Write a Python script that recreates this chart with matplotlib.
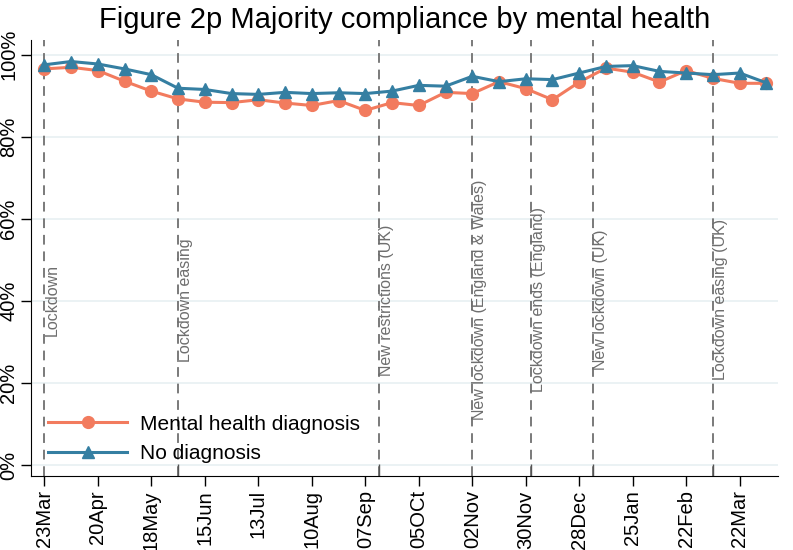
import matplotlib
matplotlib.use("Agg")
import matplotlib.pyplot as plt
import pandas as pd

plt.rcParams['font.family'] = ['Liberation Sans', 'DejaVu Sans']

# survey waves (fortnightly)
wave_dates = ["2020-03-23", "2020-04-06", "2020-04-20", "2020-05-04", "2020-05-18",
              "2020-06-01", "2020-06-15", "2020-06-29", "2020-07-13", "2020-07-27",
              "2020-08-10", "2020-08-24", "2020-09-07", "2020-09-21", "2020-10-05",
              "2020-10-19", "2020-11-02", "2020-11-16", "2020-11-30", "2020-12-14",
              "2020-12-28", "2021-01-11", "2021-01-25", "2021-02-08", "2021-02-22",
              "2021-03-08", "2021-03-22", "2021-04-05"]

mental_health = [96.5, 96.9, 96.1, 93.5, 91.1, 89.2, 88.4, 88.3, 89.0, 88.2,
                 87.6, 88.8, 86.4, 88.3, 87.6, 90.8, 90.5, 93.4, 91.7, 89.0,
                 93.3, 96.7, 95.7, 93.3, 96.1, 94.2, 93.0, 93.0]
no_diagnosis = [97.5, 98.3, 97.7, 96.5, 95.1, 91.8, 91.5, 90.5, 90.3, 90.8,
                90.5, 90.7, 90.5, 91.1, 92.5, 92.3, 94.7, 93.4, 94.1, 93.9,
                95.5, 97.1, 97.3, 95.9, 95.5, 95.1, 95.5, 93.1]

tick_dates = ["2020-03-23", "2020-04-20", "2020-05-18", "2020-06-15", "2020-07-13",
              "2020-08-10", "2020-09-07", "2020-10-05", "2020-11-02", "2020-11-30",
              "2020-12-28", "2021-01-25", "2021-02-22", "2021-03-22"]
tick_labels = ["23Mar", "20Apr", "18May", "15Jun", "13Jul", "10Aug", "07Sep",
               "05OCt", "02Nov", "30Nov", "28Dec", "25Jan", "22Feb", "22Mar"]

event_dates = ["2020-03-23", "2020-06-01", "2020-09-14", "2020-11-02",
               "2020-12-03", "2021-01-04", "2021-03-08"]
event_labels = ["Lockdown", "Lockdown easing", "New restrictions (UK)",
                "New lockdown (England & Wales)", "Lockdown ends (England)",
                "New lockdown (UK)", "Lockdown easing (UK)"]

x = pd.to_datetime(wave_dates)
ticks = pd.to_datetime(tick_dates)
events = pd.to_datetime(event_dates)

red = "#F27B5E"
blue = "#357FA2"

fig = plt.figure(figsize=(7.93, 5.5), dpi=100)
ax = fig.add_axes([0.039, 0.135, 0.942, 0.792])

for yv in range(0, 101, 20):
    ax.axhline(yv, color="#E8F0F2", lw=1.2, zorder=0)

for d, lab in zip(events, event_labels):
    ax.axvline(d, color="#7a7a7a", lw=1.4, ls=(0, (5, 3.5)), zorder=1)
    ax.text(d, 40.3, lab, rotation=90, ha="left", va="center",
            fontsize=11.5, color="#6e6e6e", zorder=2)

ax.plot(x, mental_health, color=red, lw=2.2, marker="o", ms=8.5,
        label="Mental health diagnosis", zorder=3)
ax.plot(x, no_diagnosis, color=blue, lw=2.2, marker="^", ms=8.5,
        label="No diagnosis", zorder=4)

ax.set_xlim(pd.Timestamp("2020-03-16"), pd.Timestamp("2021-04-11"))
ax.set_ylim(-2.5, 103.5)

ax.set_xticks(ticks)
ax.set_xticklabels(tick_labels, rotation=90, fontsize=14.5)
ax.set_xticks(events, minor=True)
ax.tick_params(axis="x", which="major", direction="out", length=7, width=1)
ax.tick_params(axis="x", which="minor", direction="in", length=9, width=1,
               color="#555555")

ax.set_yticks(range(0, 101, 20))
ax.set_yticklabels([f"{v}%" for v in range(0, 101, 20)], rotation=90,
                   va="center", fontsize=14.5)
ax.tick_params(axis="y", direction="out", length=7, width=1, pad=2)

for s in ["top", "right"]:
    ax.spines[s].set_visible(False)

ax.set_title("Figure 2p Majority compliance by mental health", fontsize=21, pad=9)

ax.legend(loc="lower left", frameon=False, fontsize=15, handlelength=3.8,
          handletextpad=0.6, borderaxespad=0.0, labelspacing=0.5,
          bbox_to_anchor=(0.012, 0.01))

fig.savefig("out.png", dpi=100)
